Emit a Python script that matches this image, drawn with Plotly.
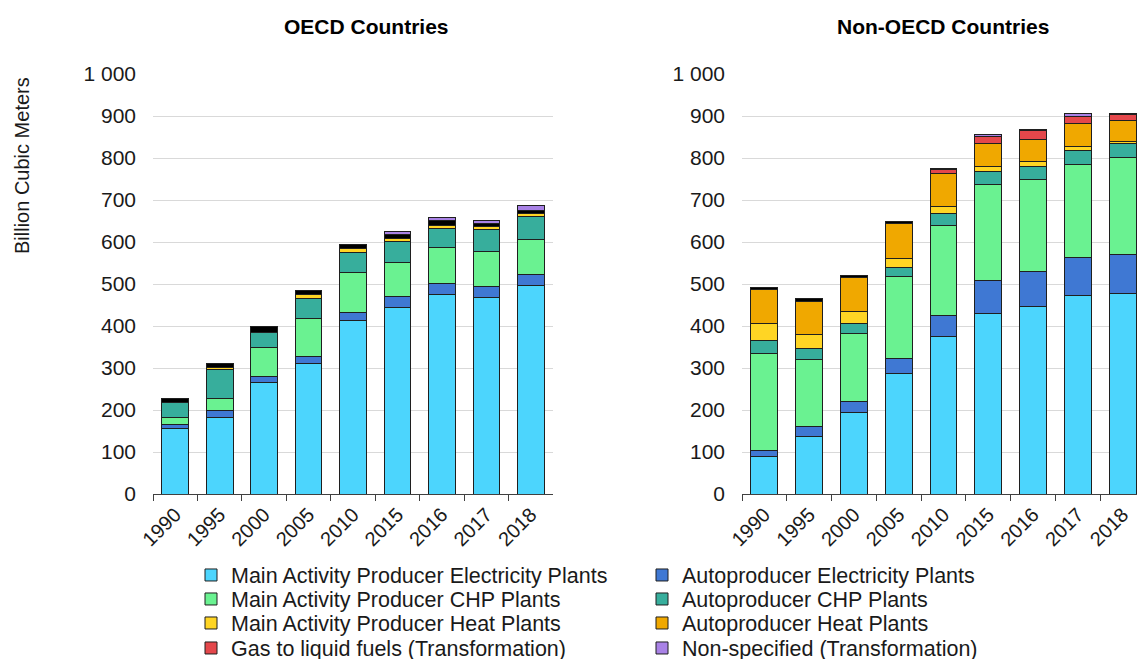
import plotly.graph_objects as go

years = ["1990", "1995", "2000", "2005", "2010", "2015", "2016", "2017", "2018"]

series_names = [
    "Main Activity Producer Electricity Plants",
    "Autoproducer Electricity Plants",
    "Main Activity Producer CHP Plants",
    "Autoproducer CHP Plants",
    "Main Activity Producer Heat Plants",
    "Autoproducer Heat Plants",
    "Gas to liquid fuels (Transformation)",
    "Other",
    "Non-specified (Transformation)",
]
series_colors = ["#4cd5fd", "#3f78d3", "#6af291", "#37ae9c", "#ffd524",
                 "#f0a800", "#e4474b", "#000000", "#a982e6"]
in_legend = [True, True, True, True, True, True, True, False, True]

# OECD, billion cubic meters
oecd_mape = [155, 183, 266, 311, 414, 444, 475, 468, 496]
oecd_ape = [10, 17, 14, 17, 18, 26, 26, 25, 26]
oecd_mapchp = [18, 27, 69, 91, 95, 82, 86, 85, 83]
oecd_apchp = [34, 69, 35, 47, 48, 49, 45, 52, 55]
oecd_maph = [0, 5, 0, 8, 9, 7, 8, 7, 8]
oecd_aph = [0, 0, 0, 0, 0, 0, 0, 0, 0]
oecd_gtl = [0, 0, 0, 0, 0, 0, 0, 0, 0]
oecd_other = [11, 10, 14, 10, 10, 11, 11, 8, 8]
oecd_nonspec = [0, 0, 0, 0, 0, 5, 8, 7, 10]

# Non-OECD, billion cubic meters
non_mape = [89, 138, 193, 287, 374, 429, 446, 473, 477]
non_ape = [14, 22, 27, 35, 52, 79, 83, 91, 94]
non_mapchp = [231, 160, 161, 197, 214, 229, 219, 221, 231]
non_apchp = [31, 27, 25, 21, 27, 32, 31, 32, 33]
non_maph = [40, 32, 28, 21, 18, 10, 13, 10, 4]
non_aph = [83, 79, 82, 83, 77, 55, 53, 56, 50]
non_gtl = [0, 0, 0, 0, 10, 17, 20, 17, 14]
non_other = [4, 7, 4, 5, 3, 0, 4, 0, 4]
non_nonspec = [0, 0, 0, 0, 0, 6, 0, 6, 0]

oecd_series = [oecd_mape, oecd_ape, oecd_mapchp, oecd_apchp, oecd_maph,
               oecd_aph, oecd_gtl, oecd_other, oecd_nonspec]
non_series = [non_mape, non_ape, non_mapchp, non_apchp, non_maph,
              non_aph, non_gtl, non_other, non_nonspec]

W, H = 1137, 659
FONT = "Arial, Liberation Sans, sans-serif"
TXT = "#1a1a1a"

def px_x(p):
    return p / W

def px_y(p):
    return (H - p) / H

# legend grid: two columns (text left edge) and four rows (centre line)
legend_cols = [232, 683]
legend_rows = [575, 599, 623, 648]

fig = go.Figure()
legend_layouts = {}
slot = 0
for i, name in enumerate(series_names):
    legend_id = None
    if in_legend[i]:
        legend_id = "legend" if slot == 0 else f"legend{slot + 1}"
        col, row = slot % 2, slot // 2
        legend_layouts[legend_id] = dict(
            x=px_x(legend_cols[col] - 41), y=px_y(legend_rows[row]),
            xanchor="left", yanchor="middle", orientation="v",
            font=dict(family=FONT, size=21.5, color=TXT),
            bgcolor="rgba(0,0,0,0)", borderwidth=0,
        )
        slot += 1
    for k, (vals, xa, ya) in enumerate([(oecd_series[i], "x", "y"),
                                         (non_series[i], "x2", "y2")]):
        bar = dict(
            x=years, y=vals, name=name, xaxis=xa, yaxis=ya,
            marker=dict(color=series_colors[i], line=dict(color="#1f1f1f", width=1)),
            legendgroup=name, showlegend=(legend_id is not None and k == 0),
        )
        if legend_id is not None:
            bar["legend"] = legend_id
        fig.add_trace(go.Bar(**bar))

y_dom = [px_y(494), px_y(74)]
axis_common = dict(
    type="category", showgrid=False, showline=True, linecolor="#404040", linewidth=1,
    ticks="outside", tickson="boundaries", ticklen=6, tickcolor="#404040",
    tickangle=-45, tickfont=dict(family=FONT, size=20, color=TXT),
)
yaxis_common = dict(
    range=[0, 1000], tickvals=list(range(0, 1001, 100)), tickformat=",d",
    showgrid=True, gridcolor="#d9d9d9", gridwidth=1, zeroline=False, showline=False,
    ticks="", ticklabelstandoff=16, tickfont=dict(family=FONT, size=21, color=TXT),
    domain=y_dom,
)

fig.update_layout(
    width=W, height=H, barmode="stack", bargap=0.4,
    margin=dict(l=0, r=0, t=0, b=0, autoexpand=False),
    plot_bgcolor="white", paper_bgcolor="white",
    separators=". ",
    font=dict(family=FONT, size=20, color=TXT),
    xaxis=dict(domain=[px_x(153), px_x(553)], anchor="y", range=[-0.5, 8.5], **axis_common),
    xaxis2=dict(domain=[px_x(742), 1.0], anchor="y2", range=[-0.5, 8.32], **axis_common),
    yaxis=dict(anchor="x", **yaxis_common),
    yaxis2=dict(anchor="x2", **yaxis_common),
    showlegend=True,
    annotations=[
        dict(text="<b>OECD Countries</b>", x=px_x(366), y=px_y(27), xref="paper", yref="paper",
             xanchor="center", yanchor="middle", showarrow=False,
             font=dict(family=FONT, size=21, color="#000000")),
        dict(text="<b>Non-OECD Countries</b>", x=px_x(943), y=px_y(27), xref="paper", yref="paper",
             xanchor="center", yanchor="middle", showarrow=False,
             font=dict(family=FONT, size=21, color="#000000")),
        dict(text="Billion Cubic Meters", textangle=-90, x=px_x(22), y=px_y(166),
             xref="paper", yref="paper", xanchor="center", yanchor="middle", showarrow=False,
             font=dict(family=FONT, size=20, color=TXT)),
    ],
)
fig.update_layout(**legend_layouts)

fig.write_html("out.html")
